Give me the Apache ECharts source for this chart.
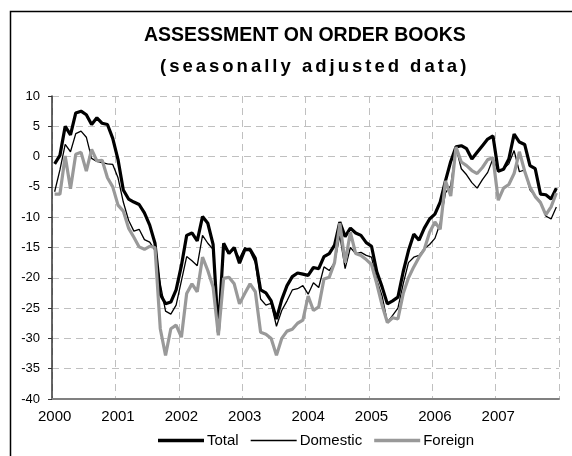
<!DOCTYPE html>
<html>
<head>
<meta charset="utf-8">
<script src="https://cdn.jsdelivr.net/npm/echarts@6/dist/echarts.min.js"></script>
<style>
html,body{margin:0;padding:0;background:#fff;}
#chart{width:572px;height:456px;}
</style>
</head>
<body>
<div id="chart"></div>
<script>
// letter spacing for the subtitle (identified by its unique font size)
(function(){
  var proto = CanvasRenderingContext2D.prototype;
  var orig = proto.fillText;
  proto.fillText = function(t, x, y, w){
    if ('letterSpacing' in this) {
      this.letterSpacing = (this.font.indexOf('18.5px') >= 0) ? '3px' : '0px';
    }
    return (w === undefined) ? orig.call(this, t, x, y) : orig.call(this, t, x, y, w);
  };
})();

var years = ['2000','2001','2002','2003','2004','2005','2006','2007'];
var monthNames = ['01','02','03','04','05','06','07','08','09','10','11','12'];
var yTicks = [10, 5, 0, -5, -10, -15, -20, -25, -30, -35, -40];
var seriesNames = ['Total', 'Domestic', 'Foreign'];

var total = [
  -1.2, 0.2, 5.0, 3.6, 7.2, 7.5, 6.9, 5.3, 6.4, 5.5, 5.3, 3.0,
  -0.5, -5.5, -7.0, -7.5, -7.9, -9.3, -11.3, -14.3, -22.7, -24.3, -24.0, -22.0,
  -18.0, -13.0, -12.6, -13.9, -9.9, -11.0, -14.5, -29.0, -14.3, -16.0, -15.0, -17.6,
  -15.4, -15.3, -16.8, -22.0, -22.5, -23.8, -26.8, -23.6, -21.3, -19.8, -19.2, -19.4,
  -19.6, -18.3, -18.5, -16.5, -16.0, -14.6, -10.8, -13.2, -11.8, -12.6, -13.0, -14.2,
  -14.8, -19.0, -21.5, -24.3, -23.8, -23.2, -19.0, -15.5, -12.8, -13.8, -11.8, -10.3,
  -9.5, -7.5, -4.0, -0.8, 1.6, 1.8, 1.3, -0.4, 0.7, 1.8, 2.9, 3.4,
  -2.4, -2.1, -0.4, 3.7, 2.4, 2.0, -1.5, -2.0, -6.2, -6.3, -7.0, -5.2
];
var domestic = [
  -5.8, -2.2, 2.0, 0.8, 3.8, 4.2, 3.2, -0.3, -0.8, -1.0, -1.2, -1.3,
  -3.5, -7.5, -10.5, -12.3, -12.0, -13.7, -14.1, -15.5, -21.0, -25.5, -26.0, -24.5,
  -20.5, -16.5, -17.2, -18.0, -13.0, -14.3, -15.3, -29.3, -14.8, -16.0, -15.3, -16.8,
  -15.0, -15.6, -17.5, -23.5, -24.5, -24.2, -28.0, -25.4, -23.8, -22.0, -21.8, -21.3,
  -22.7, -20.8, -21.6, -18.2, -18.8, -17.5, -13.0, -18.5, -15.0, -16.0, -15.8, -16.3,
  -16.6, -20.4, -23.0, -27.3, -26.2, -25.0, -21.0, -17.5, -16.6, -16.3, -15.2, -14.5,
  -13.5, -11.0, -6.0, -4.8, 1.5, -2.0, -3.0, -4.3, -5.2, -3.8, -2.6, -0.3,
  -2.5, -2.0, -1.2, 1.0, -2.5, -2.2, -5.5, -6.5, -7.5, -9.8, -10.3, -8.3
];
var foreign = [
  -6.2, -6.2, 0.1, -5.3, 0.4, 0.7, -2.4, 1.2, -0.7, -0.6, -3.5, -5.0,
  -8.0, -9.0, -11.8, -13.3, -14.9, -15.3, -14.8, -15.0, -28.4, -32.8, -28.4, -27.8,
  -29.8, -22.6, -21.0, -22.3, -16.6, -18.8, -21.5, -29.5, -20.1, -19.9, -21.0, -24.3,
  -22.6, -21.0, -22.3, -29.0, -29.3, -30.0, -32.8, -30.0, -28.8, -28.5, -27.5, -27.0,
  -23.0, -25.4, -24.8, -20.2, -19.9, -17.5, -11.0, -17.5, -12.5, -16.0, -16.3, -17.0,
  -17.8, -21.0, -24.5, -27.4, -26.6, -26.8, -22.6, -20.0, -18.2, -16.6, -15.3, -12.5,
  -10.8, -12.0, -4.0, -6.5, 1.6, -0.9, -1.5, -2.3, -2.8, -1.8, -0.5, -0.2,
  -7.2, -5.2, -4.6, -2.8, 0.8, -2.4, -5.0, -6.6, -7.6, -9.6, -8.3, -6.0
];

var categories = [];
years.forEach(function(y){ monthNames.forEach(function(m){ categories.push(y + '-' + m); }); });

var FONT = 'Liberation Sans, Arial, sans-serif';
// legend icons: a horizontal bar inside a 46x12 box (tiny corner specks keep the box)
var thickIcon = 'path://M0,0h0.01v0.01h-0.01z M46,12h-0.01v-0.01h0.01z M0,4.3h46v3.4h-46z';
var thinIcon  = 'path://M0,0h0.01v0.01h-0.01z M46,12h-0.01v-0.01h0.01z M0,5.35h46v1.3h-46z';

var chart = echarts.init(document.getElementById('chart'), null, {renderer: 'canvas'});
chart.setOption({
  animation: false,
  backgroundColor: '#ffffff',
  title: [
    {text: 'ASSESSMENT ON ORDER BOOKS', left: 139, top: 21,
     textStyle: {fontFamily: FONT, fontSize: 19.5, fontWeight: 'bold', color: '#000'}},
    {text: '(seasonally adjusted data)', left: 155, top: 52,
     textStyle: {fontFamily: FONT, fontSize: 18.5, fontWeight: 'bold', color: '#000'}}
  ],
  graphic: [{
    type: 'rect', left: 8, top: 9, z: 100, silent: true,
    shape: {width: 620, height: 520},
    style: {fill: 'none', stroke: '#000', lineWidth: 1.5}
  }],
  legend: {
    left: 153, top: 428,
    itemWidth: 46, itemHeight: 12, itemGap: 12,
    textStyle: {fontFamily: FONT, fontSize: 15, color: '#000', padding: [0, 0, 0, -2]},
    data: [
      {name: seriesNames[0], icon: thickIcon, itemStyle: {color: '#000'}},
      {name: seriesNames[1], icon: thinIcon, itemStyle: {color: '#000'}},
      {name: seriesNames[2], icon: thickIcon, itemStyle: {color: '#999999'}}
    ]
  },
  grid: {left: 52, right: 13, top: 96, bottom: 57, containLabel: false},
  xAxis: {
    type: 'category',
    data: categories,
    boundaryGap: true,
    axisLine: {show: true, onZero: false, lineStyle: {color: '#808080', width: 2}},
    axisTick: {show: false, interval: 11},
    axisLabel: {
      interval: 11, margin: 10,
      fontFamily: FONT, fontSize: 15, color: '#000',
      formatter: function(v){ return v.slice(0, 4); }
    },
    splitLine: {show: true, interval: 11, lineStyle: {color: '#c0c0c0', type: [7, 5], width: 1}}
  },
  yAxis: {
    type: 'value',
    min: -40, max: 10, interval: 5,
    axisLine: {show: true, lineStyle: {color: '#333', width: 1.5}},
    axisTick: {show: true, length: 4, inside: false, lineStyle: {color: '#333', width: 1}},
    axisLabel: {
      margin: 12, fontFamily: FONT, fontSize: 13, color: '#000',
      formatter: function(v){ return yTicks.indexOf(v) >= 0 ? String(v) : ''; }
    },
    splitLine: {show: true, lineStyle: {color: '#c0c0c0', type: [7, 5], width: 1}}
  },
  series: [
    {name: seriesNames[0], type: 'line', data: total, symbol: 'none',
     color: '#000', lineStyle: {color: '#000', width: 3.2}, z: 3},
    {name: seriesNames[1], type: 'line', data: domestic, symbol: 'none',
     color: '#000', lineStyle: {color: '#000', width: 1.3}, z: 4},
    {name: seriesNames[2], type: 'line', data: foreign, symbol: 'none',
     color: '#999', lineStyle: {color: '#999999', width: 3.2}, z: 5}
  ]
});
</script>
</body>
</html>
